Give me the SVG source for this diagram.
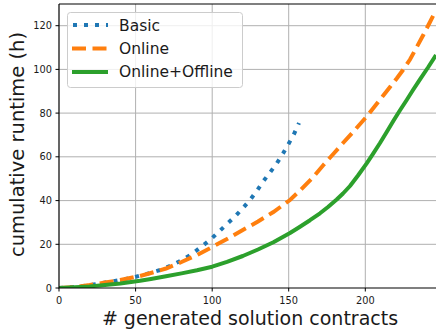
<svg xmlns="http://www.w3.org/2000/svg" width="436" height="333" viewBox="0 0 436 333">
<style>
text{font-family:"DejaVu Sans","Liberation Sans",sans-serif;fill:#1a1a1a}
.tick{font-size:9.8px}
.grid{stroke:#b0b0b0;stroke-width:1;fill:none}
.spine{stroke:#000;stroke-width:1.2;fill:none}
.tk{stroke:#000;stroke-width:1}
.basic{stroke:#1f77b4;stroke-width:4;fill:none;stroke-dasharray:4 7}
.online{stroke:#ff7f0e;stroke-width:4;fill:none;stroke-dasharray:14 6.5}
.offline{stroke:#2ca02c;stroke-width:4;fill:none;stroke-linejoin:round}
.leg{font-size:15.5px}
</style>
<defs><clipPath id="ax"><rect x="59" y="4" width="377" height="284"/></clipPath></defs>
<rect width="436" height="333" fill="#fff"/>
<g id="grid">
<path class="grid" d="M135.6 4V288M212.2 4V288M288.7 4V288M365.3 4V288"/>
<path class="grid" d="M59 244.3H436M59 200.6H436M59 156.8H436M59 113.1H436M59 69.4H436M59 25.7H436"/>
</g>
<g id="connectors" clip-path="url(#ax)">
<polyline id="basic" class="basic" points="59,288 80,286.5 100,283.5 120,280 135,277 150,273 162,269.5 172,265 182,260 192,254 201,247 210,240 218,232.5 227,224 235,216.5 243,208 250,200 257,190.7 263,181.7 270,172.5 277,163 283,153.5 288.5,144 294,134 299,123"/>
<polyline id="online" class="online" points="59,288 75,287 89.6,285 105,282.5 120.3,280 140,276 150.9,273 166,268.5 181.5,262 197,255 212.2,247 227,239 242.8,230 258,221.5 273.4,212 290,200 300,190.5 313.3,177 323,165.5 333.3,154 343,143 353.3,131.7 366.7,116.5 375,106 383.3,95.5 390,87 396.7,78.5 403,70 410,59.5 416,48.5 423,35.5 430,22 436,10"/>
<polyline id="offline" class="offline" points="59,288 75,287.3 89.6,286.4 105,285 120.3,283.4 140,280.8 150.9,279 166,276.3 181.5,273.4 197,270.2 212.2,266.7 227,261.8 242.8,256 258,249.5 273.4,242.3 290,233 300,226.7 310,220.2 320,213.3 328,207 336.7,199.5 343,193.5 350,186 358,175.5 366.7,163.3 373,153.8 380,143 386.7,132 393.3,121 400,110.3 406.7,100 413,90 420,79.3 428,67.5 436,55"/>
</g>
<g id="axes">
<path class="spine" d="M59 4V288H436M59 4H436"/>
<path class="tk" d="M55.5 288H59M55.5 244.3H59M55.5 200.6H59M55.5 156.8H59M55.5 113.1H59M55.5 69.4H59M55.5 25.7H59"/>
<path class="tk" d="M59 288V291.5M135.6 288V291.5M212.2 288V291.5M288.7 288V291.5M365.3 288V291.5"/>
<g class="tick" text-anchor="end">
<text x="52" y="291.5">0</text>
<text x="52" y="247.8">20</text>
<text x="52" y="204.1">40</text>
<text x="52" y="160.3">60</text>
<text x="52" y="116.6">80</text>
<text x="52" y="72.9">100</text>
<text x="52" y="29.2">120</text>
</g>
<g class="tick" text-anchor="middle">
<text x="59" y="304">0</text>
<text x="135.6" y="304">50</text>
<text x="212.2" y="304">100</text>
<text x="288.7" y="304">150</text>
<text x="365.3" y="304">200</text>
</g>
<text x="250" y="325" text-anchor="middle" font-size="19px"># generated solution contracts</text>
<text transform="translate(24 144.5) rotate(-90)" text-anchor="middle" font-size="19.5px">cumulative runtime (h)</text>
</g>
<g id="legend">
<rect x="67.5" y="12.5" width="175" height="75" rx="3" fill="#fff" fill-opacity="0.8" stroke="#cccccc" stroke-width="1"/>
<line class="basic" x1="73" y1="25" x2="108" y2="25"/>
<line class="online" x1="72" y1="48.5" x2="108" y2="48.5"/>
<line class="offline" x1="72" y1="72" x2="108" y2="72"/>
<text class="leg" x="119" y="30.7">Basic</text>
<text class="leg" x="119" y="54">Online</text>
<text class="leg" x="119" y="77.3">Online+Offline</text>
</g>
</svg>
